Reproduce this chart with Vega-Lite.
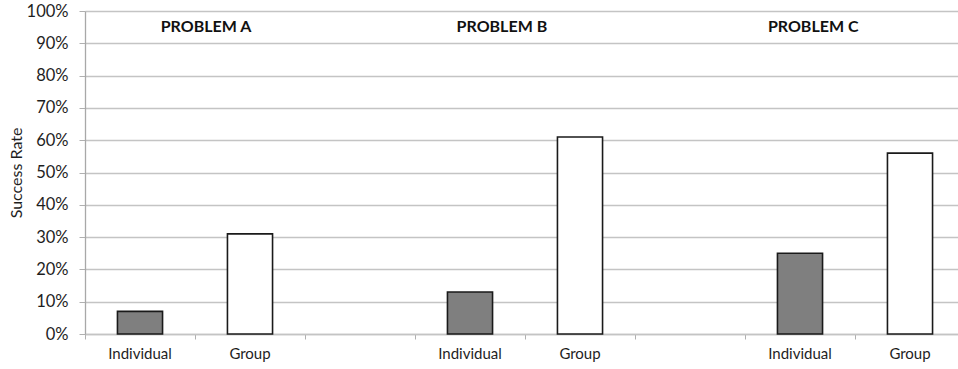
{
  "$schema": "https://vega.github.io/schema/vega-lite/v6.json",
  "width": 873,
  "height": 323,
  "autosize": {"type": "none"},
  "padding": {"left": 85, "top": 11, "right": 0, "bottom": 35},
  "background": "white",
  "config": {
    "view": {"stroke": null},
    "font": "Lato",
    "axis": {"labelColor": "#1e1e1e", "titleColor": "#1e1e1e"}
  },
  "datasets": {
    "rates": [
      {"problem": "A", "condition": "Individual", "slot": "A|Individual", "rate": 0.07},
      {"problem": "A", "condition": "Group", "slot": "A|Group", "rate": 0.31},
      {"problem": "B", "condition": "Individual", "slot": "B|Individual", "rate": 0.13},
      {"problem": "B", "condition": "Group", "slot": "B|Group", "rate": 0.61},
      {"problem": "C", "condition": "Individual", "slot": "C|Individual", "rate": 0.25},
      {"problem": "C", "condition": "Group", "slot": "C|Group", "rate": 0.56}
    ]
  },
  "layer": [
    {
      "data": {"name": "rates"},
      "mark": {"type": "bar", "width": {"band": 0.41}, "stroke": "#1a1a1a", "strokeWidth": 1.6},
      "encoding": {
        "x": {
          "field": "slot",
          "type": "nominal",
          "sort": null,
          "scale": {
            "domain": ["A|Individual", "A|Group", "A-B", "B|Individual", "B|Group", "B-C", "C|Individual", "C|Group"],
            "range": [0, 880],
            "paddingInner": 0,
            "paddingOuter": 0
          },
          "axis": {
            "title": null,
            "bandPosition": 0,
            "labelAngle": 0,
            "labelExpr": "indexof(datum.label, '|') >= 0 ? split(datum.label, '|')[1] : ''",
            "labelFontSize": 15,
            "labelPadding": 7,
            "domainColor": "#c4c4c4",
            "domainWidth": 1.3,
            "tickColor": "#b0b0b0",
            "tickSize": 5,
            "grid": false
          }
        },
        "y": {
          "field": "rate",
          "type": "quantitative",
          "scale": {"domain": [0, 1], "nice": false},
          "axis": {
            "title": "Success Rate",
            "values": [0, 0.1, 0.2, 0.3, 0.4, 0.5, 0.6, 0.7, 0.8, 0.9, 1],
            "format": ".0%",
            "labelOverlap": false,
            "labelFontSize": 16.5,
            "labelPadding": 11,
            "tickSize": 6,
            "tickColor": "#b0b0b0",
            "domainColor": "#a8a8a8",
            "domainWidth": 1.3,
            "grid": true,
            "gridColor": "#c4c4c4",
            "gridWidth": 1.3,
            "titleFontSize": 16,
            "titleFontWeight": "normal",
            "titlePadding": 2
          }
        },
        "fill": {
          "field": "condition",
          "type": "nominal",
          "scale": {"domain": ["Individual", "Group"], "range": ["#7f7f7f", "#ffffff"]},
          "legend": null
        }
      }
    },
    {
      "data": {"values": [{"heading": "PROBLEM A"}]},
      "mark": {"type": "text", "font": "Lato", "fontWeight": "bold", "fontSize": 16, "color": "#111111", "baseline": "middle"},
      "encoding": {
        "text": {"field": "heading"},
        "x": {"datum": 1.1, "type": "quantitative", "scale": {"domain": [0, 8], "range": [0, 880]}, "axis": null},
        "y": {"datum": 0.95, "type": "quantitative", "axis": null}
      }
    },
    {
      "data": {"values": [{"heading": "PROBLEM B"}]},
      "mark": {"type": "text", "font": "Lato", "fontWeight": "bold", "fontSize": 16, "color": "#111111", "baseline": "middle"},
      "encoding": {
        "text": {"field": "heading"},
        "x": {"datum": 3.79, "type": "quantitative", "scale": {"domain": [0, 8], "range": [0, 880]}, "axis": null},
        "y": {"datum": 0.95, "type": "quantitative", "axis": null}
      }
    },
    {
      "data": {"values": [{"heading": "PROBLEM C"}]},
      "mark": {"type": "text", "font": "Lato", "fontWeight": "bold", "fontSize": 16, "color": "#111111", "baseline": "middle"},
      "encoding": {
        "text": {"field": "heading"},
        "x": {"datum": 6.62, "type": "quantitative", "scale": {"domain": [0, 8], "range": [0, 880]}, "axis": null},
        "y": {"datum": 0.95, "type": "quantitative", "axis": null}
      }
    }
  ],
  "resolve": {"scale": {"x": "independent"}, "axis": {"y": "independent"}}
}
